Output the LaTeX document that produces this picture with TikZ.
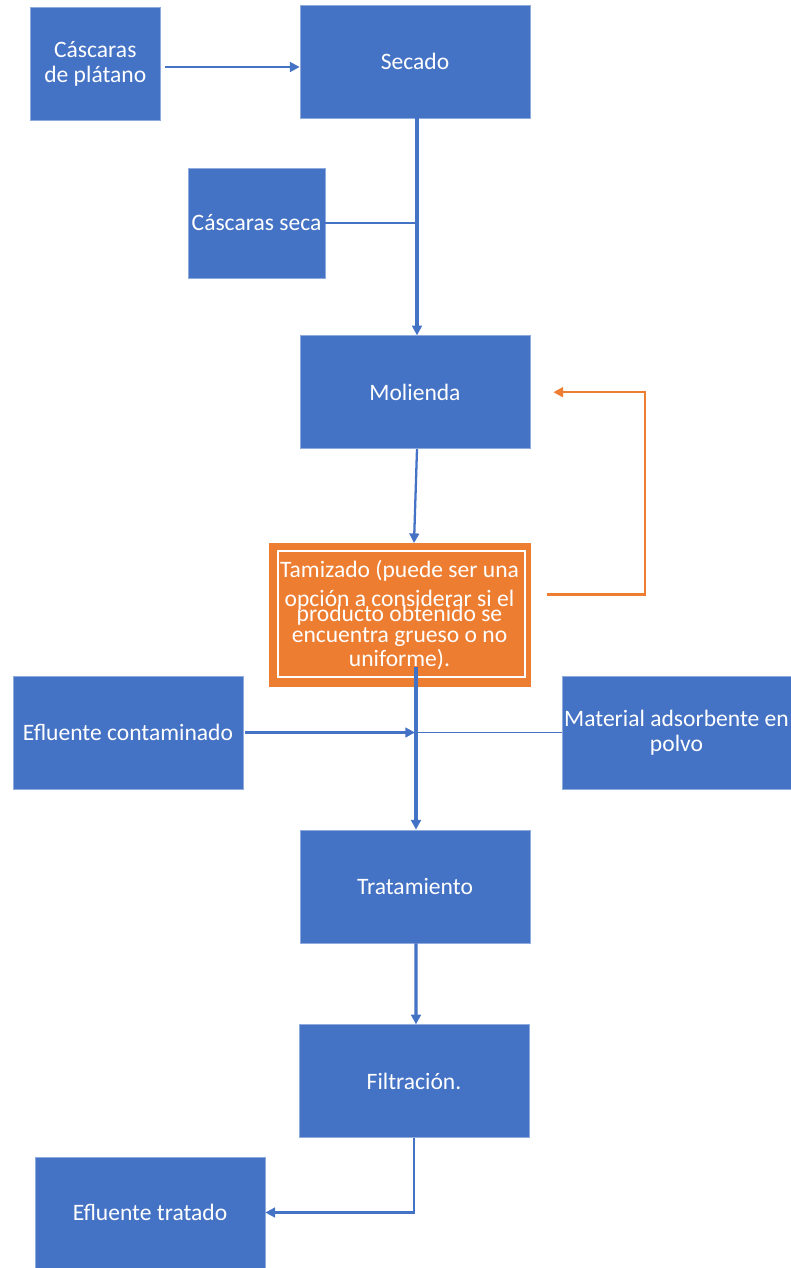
\documentclass[tikz,border=0pt]{standalone}
\usepackage{fontspec}
\setmainfont{Carlito}
\usetikzlibrary{arrows.meta, positioning}
\definecolor{stepblue}{RGB}{68,114,196}
\definecolor{sieveorange}{RGB}{237,125,49}

\begin{document}
\begin{tikzpicture}[
  box/.style={fill=stepblue, draw=stepblue!60!white, line width=0.4pt, text=white, minimum width=4.6cm, minimum height=2.26cm, align=center, inner sep=0pt, font=\fontsize{13.4}{14.2}\selectfont},
  arrow/.style={-{Triangle[length=5.5pt,width=5.5pt]}, draw=stepblue, line width=1.3pt},
  heavy/.style={arrow, line width=1.8pt},
  feed/.style={-{Triangle[length=5.5pt,width=5.5pt]}, draw=sieveorange, line width=1.3pt},
  link/.style={draw=stepblue, line width=0.9pt}
]
\useasboundingbox (0,0) rectangle (15.82,-25.36);

% Main line
\node[box] (secado) at (8.3,-1.23) {Secado};
\node[box, below=4.34cm of secado] (molienda) {Molienda};
\node[box, fill=sieveorange, draw=sieveorange, minimum width=5.22cm, minimum height=2.86cm, below=1.88cm of molienda, xshift=-0.31cm] (tamiz)
  {Tamizado (puede ser una\\[2.2pt] opción a considerar si el\\[-5.7pt] producto obtenido se\\[-2.3pt] encuentra grueso o no\\[-0.6pt] uniforme).};
\node[box] (trat) at (8.3,-17.73) {Tratamiento};
\node[box, below=1.62cm of trat, xshift=-0.02cm] (filt) {Filtración.};

% Inputs and outputs
\node[box, minimum width=2.6cm, left=2.78cm of secado, yshift=-0.04cm] (platano) {Cáscaras\\de plátano};
\node[box, minimum width=2.74cm, minimum height=2.2cm] (cseca) at (5.13,-4.46) {Cáscaras seca};
\node[box] (eflc) at (2.56,-14.65) {Efluente contaminado};
\node[box, minimum width=4.58cm] (mat) at (13.53,-14.65) {Material adsorbente en\\polvo};
\node[box, minimum height=2.22cm] (tratado) at (3.0,-24.25) {Efluente tratado};
\coordinate (mix) at (8.3,-14.65);

% Frame inside the sieve box
\draw[white, line width=1.2pt] ([xshift=0.18cm,yshift=-0.16cm]tamiz.north west) rectangle ([xshift=-0.1cm,yshift=0.2cm]tamiz.south east);

% Arrows
\draw[arrow] ([xshift=0.08cm,yshift=-0.07cm]platano.east) -- ([yshift=-0.11cm]secado.west);
\draw[heavy] ([xshift=0.04cm]secado.south) -- ([xshift=0.04cm]molienda.north);
\draw[link] (cseca.east) -- (cseca.east -| secado.south);
\draw[arrow] ([xshift=0.04cm]molienda.south) -- ([xshift=0.29cm]tamiz.north);
\draw[heavy] ([xshift=0.33cm,yshift=0.4cm]tamiz.south) -- ([xshift=0.02cm]trat.north);
\draw[arrow] ([xshift=0.04cm]eflc.east) -- (mix);
\draw[link] (mat.west) -- (mix);
\draw[heavy] ([xshift=0.02cm]trat.south) -- ([xshift=0.04cm]filt.north);
\draw[arrow] (filt.south) |- (tratado.east);

% Return path
\draw[feed] ([xshift=0.34cm,yshift=0.41cm]tamiz.east) -| ([xshift=2.3cm]molienda.east) -- ([xshift=0.46cm]molienda.east);
\end{tikzpicture}
\end{document}
